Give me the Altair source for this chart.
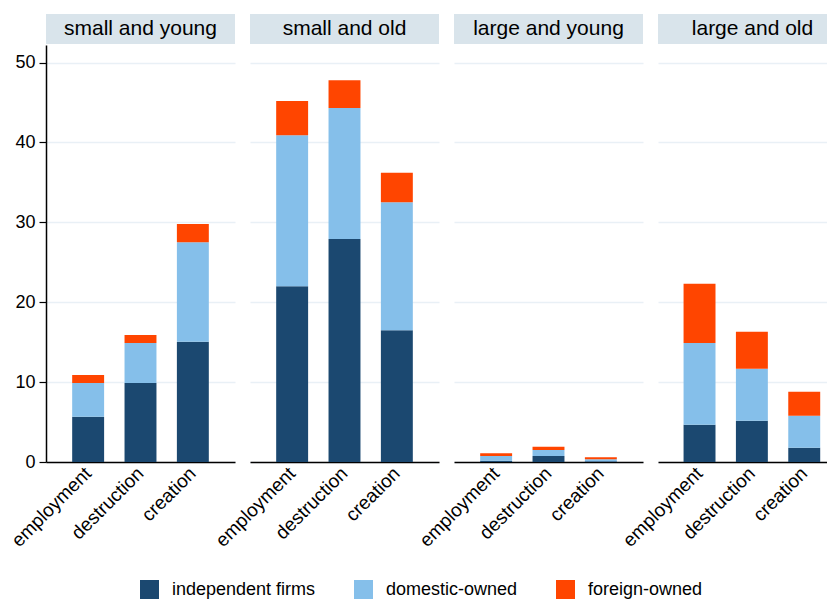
import altair as alt
import pandas as pd

groups = ["small and young", "small and old", "large and young", "large and old"]
measures = ["employment", "destruction", "creation"]
series = ["independent firms", "domestic-owned", "foreign-owned"]
colors = ["#1b4870", "#85bfea", "#ff4500"]

# values per group: [employment, destruction, creation]
independent = {
    "small and young": [5.66, 9.9, 15.04],
    "small and old": [22.0, 27.9, 16.5],
    "large and young": [0.15, 0.75, 0.1],
    "large and old": [4.66, 5.16, 1.79],
}
domestic = {
    "small and young": [4.24, 5.0, 12.46],
    "small and old": [18.9, 16.4, 16.0],
    "large and young": [0.6, 0.75, 0.25],
    "large and old": [10.24, 6.5, 4.0],
}
foreign = {
    "small and young": [1.0, 1.0, 2.3],
    "small and old": [4.3, 3.5, 3.7],
    "large and young": [0.35, 0.4, 0.25],
    "large and old": [7.4, 4.64, 3.0],
}

rows = []
for g in groups:
    for si, (s, src) in enumerate(zip(series, [independent, domestic, foreign])):
        for mi, m in enumerate(measures):
            rows.append({"group": g, "measure": m, "series": s, "sidx": si, "value": src[g][mi]})
df = pd.DataFrame(rows)

FONT = "Liberation Sans"
W, H = 189, 417
W_LAST = 169

legend = alt.Legend(title=None, orient="none", direction="horizontal",
                    legendX=94, legendY=535,
                    symbolType="square", symbolSize=361,
                    symbolStrokeWidth=0, labelFontSize=18,
                    labelOffset=13, columnPadding=38,
                    labelColor="#000000")


def panel(i, g):
    w = W if i < 3 else W_LAST
    if i < 3:
        xs = alt.Scale(paddingInner=0.39, paddingOuter=0.5)
    else:
        xs = alt.Scale(paddingInner=0.39, paddingOuter=0.309, align=0.79)
    if i == 0:
        yaxis = alt.Axis(values=[0, 10, 20, 30, 40, 50], labelFontSize=18,
                         labelColor="#000000", domainColor="#000000", domainWidth=1.5,
                         tickColor="#000000", tickSize=7, tickWidth=1.2, labelPadding=4,
                         grid=True, gridColor="#e9f0f6", gridWidth=1.5)
    else:
        yaxis = alt.Axis(values=[0, 10, 20, 30, 40, 50], labels=False, ticks=False,
                         domain=False, grid=True, gridColor="#e9f0f6", gridWidth=1.5)
    sub = df[df["group"] == g]
    bars = alt.Chart(sub).mark_bar(strokeWidth=0).encode(
        x=alt.X("measure:N", sort=measures, title=None, scale=xs,
                axis=alt.Axis(labelAngle=-45, labelFontSize=19, ticks=False,
                              labelAlign="right", labelBaseline="middle",
                              domainColor="#000000", domainWidth=1.5,
                              labelColor="#000000", labelPadding=8)),
        y=alt.Y("value:Q", title=None, stack="zero",
                scale=alt.Scale(domain=[0, 52.2], nice=False), axis=yaxis),
        color=alt.Color("series:N", sort=series,
                        scale=alt.Scale(domain=series, range=colors),
                        legend=legend),
        order=alt.Order("sidx:Q", sort="ascending"),
    )
    hdr = pd.DataFrame({"group": [g]})
    rect = alt.Chart(hdr).mark_rect(color="#d9e4eb").encode(
        x=alt.value(0), x2=alt.value(w), y=alt.value(-31), y2=alt.value(-1)
    )
    text = alt.Chart(hdr).mark_text(fontSize=21, font=FONT, color="#000000",
                                    baseline="middle", align="center").encode(
        x=alt.value(W / 2), y=alt.value(-16), text="group:N"
    )
    return alt.layer(bars, rect, text).properties(width=w, height=H)


chart = alt.hconcat(*[panel(i, g) for i, g in enumerate(groups)]).properties(
    spacing=15, bounds="flush",
    padding={"left": 0, "top": 6, "right": 0, "bottom": 0},
).resolve_scale(color="shared").configure(font=FONT).configure_view(stroke=None)

chart.save("out.html", embed_options={"renderer": "svg", "actions": False})
